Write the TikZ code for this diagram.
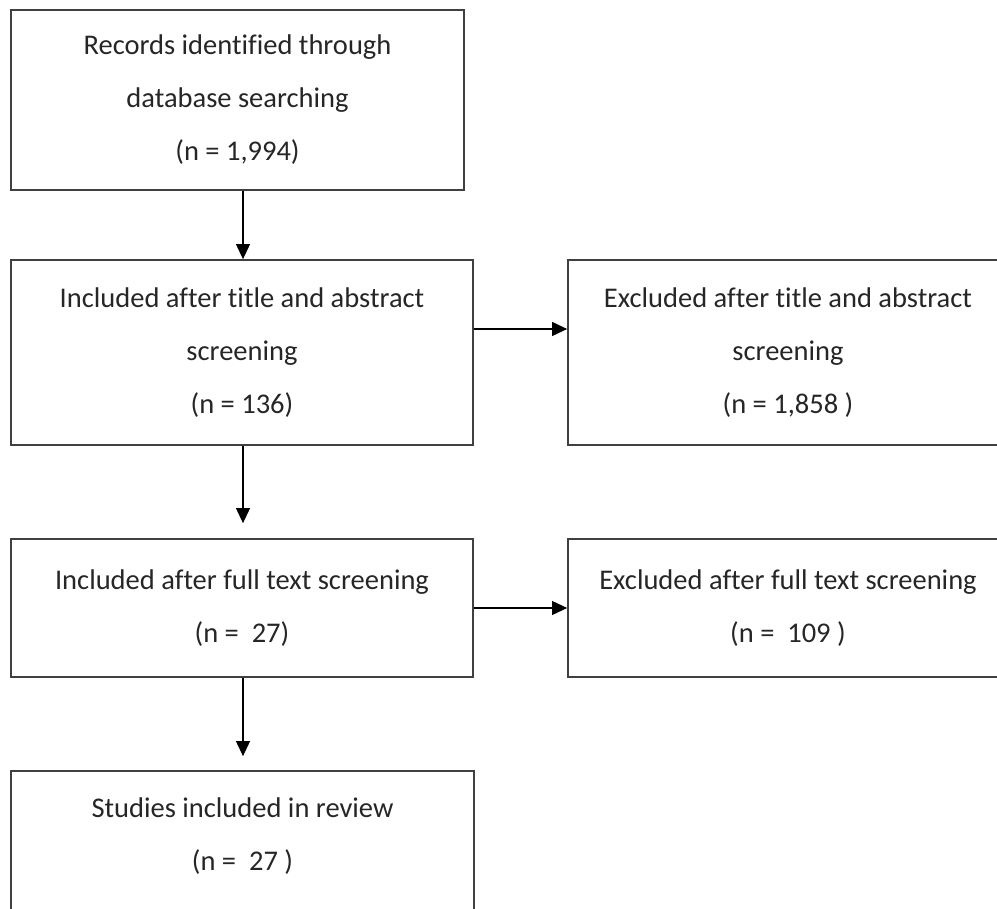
\documentclass[tikz,border=0pt]{standalone}
\usepackage{fontspec}
\setmainfont{Carlito}[Ligatures=NoCommon]
\usetikzlibrary{arrows.meta}
\begin{document}
\begin{tikzpicture}[x=1pt,y=-1pt,
    box/.style={draw=black!75,line width=1.8pt,rectangle,align=center,
      font=\fontsize{28.5}{53}\selectfont,text=black!85,inner sep=0pt},
    flow/.style={-{Triangle[length=15pt,width=14pt]},line width=1.1pt}]
  \useasboundingbox (0,0) rectangle (997,909);
  \clip (0,0) rectangle (997,909);
  \node[box,minimum width=453pt,minimum height=180pt] (records) at (237.5,100) {Records identified through\\database searching\\(n = 1,994)};
  \node[box,minimum width=462pt,minimum height=185pt] (inclabs) at (242,352.5) {Included after title and abstract\\screening\\(n = 136)};
  \node[box,minimum width=440pt,minimum height=185pt] (exclabs) at (788,352.5) {Excluded after title and abstract\\screening\\(n = 1,858 )};
  \node[box,minimum width=462pt,minimum height=138pt] (inclfull) at (242,608) {Included after full text screening\\(n = \ 27)};
  \node[box,minimum width=440pt,minimum height=138pt] (exclfull) at (788,608) {Excluded after full text screening\\(n = \ 109 )};
  \node[box,minimum width=463pt,minimum height=144pt,text depth=17pt] (review) at (242.5,843) {Studies included in review\\(n = \ 27 )};
  \draw[flow] (records.south -| 243,0) -- (inclabs.north -| 243,0);
  \draw[flow] ([yshift=23.5pt]inclabs.east) -- ([yshift=23.5pt]inclabs.east -| exclabs.west);
  \draw[flow,shorten >=15pt] (inclabs.south -| 243,0) -- (inclfull.north -| 243,0);
  \draw[flow] (inclfull.east) -- (exclfull.west);
  \draw[flow,shorten >=14pt] (inclfull.south -| 243,0) -- (review.north -| 243,0);
\end{tikzpicture}
\end{document}
